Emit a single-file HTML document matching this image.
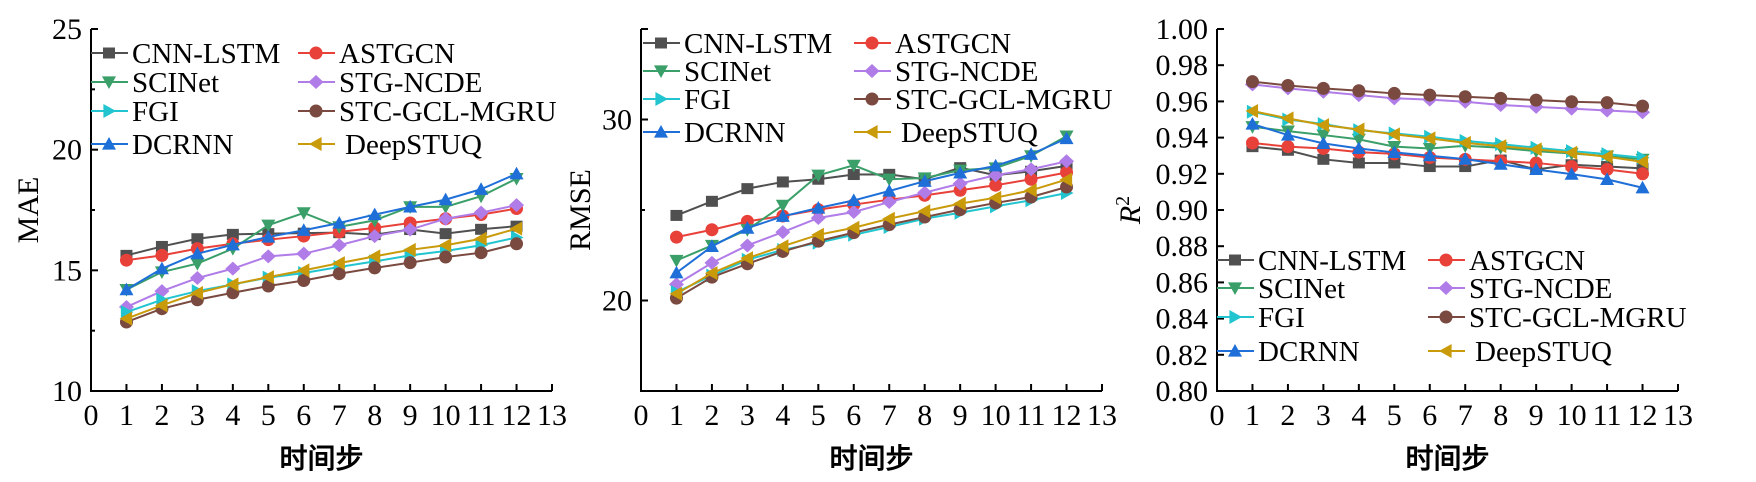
<!DOCTYPE html>
<html><head><meta charset="utf-8"><style>
html,body{margin:0;padding:0;background:#fff;}
svg{display:block;}
svg text{font-family:"Liberation Serif","Times New Roman",serif;}
</style></head><body>
<svg id="svg" width="1756" height="482" viewBox="0 0 1756 482" xmlns="http://www.w3.org/2000/svg"></svg>
<script>
const steps = [1,2,3,4,5,6,7,8,9,10,11,12];
const seriesNames = ["CNN-LSTM","ASTGCN","SCINet","STG-NCDE","FGI","STC-GCL-MGRU","DCRNN","DeepSTUQ"];
const mae_cnn = [15.62,15.99,16.31,16.49,16.52,16.54,16.56,16.48,16.69,16.52,16.70,16.83];
const mae_ast = [15.42,15.62,15.90,16.10,16.27,16.42,16.59,16.76,16.96,17.14,17.31,17.56];
const mae_sci = [14.20,14.93,15.28,15.90,16.87,17.38,16.80,17.07,17.63,17.63,18.07,18.80];
const mae_stg = [13.48,14.14,14.68,15.07,15.58,15.69,16.04,16.42,16.69,17.14,17.39,17.70];
const mae_fgi = [13.27,13.78,14.14,14.42,14.70,14.89,15.14,15.37,15.62,15.80,16.04,16.36];
const mae_stc = [12.86,13.41,13.78,14.07,14.35,14.58,14.86,15.10,15.32,15.55,15.73,16.10];
const mae_dcr = [14.20,15.07,15.69,16.06,16.38,16.66,16.96,17.31,17.63,17.93,18.36,19.00];
const mae_dst = [13.00,13.55,14.06,14.42,14.72,15.00,15.30,15.58,15.85,16.04,16.31,16.73];
const rmse_cnn = [24.70,25.48,26.18,26.55,26.70,26.96,26.97,26.70,27.34,26.92,27.14,27.44];
const rmse_ast = [23.50,23.91,24.37,24.67,25.02,25.30,25.57,25.81,26.09,26.37,26.70,27.07];
const rmse_sci = [22.21,23.04,23.91,25.26,26.92,27.47,26.70,26.77,27.20,27.32,27.99,29.08];
const rmse_stg = [20.89,22.08,23.04,23.78,24.56,24.89,25.44,25.96,26.46,26.92,27.25,27.69];
const rmse_fgi = [20.46,21.38,22.25,22.80,23.19,23.63,24.06,24.52,24.85,25.20,25.54,25.94];
const rmse_stc = [20.13,21.29,22.03,22.71,23.28,23.75,24.19,24.61,25.02,25.39,25.72,26.27];
const rmse_dcr = [21.53,22.99,24.00,24.65,25.11,25.53,26.05,26.59,27.05,27.44,28.08,28.95];
const rmse_dst = [20.37,21.51,22.34,23.00,23.63,24.02,24.52,24.94,25.35,25.68,26.09,26.68];
const r2_cnn = [0.935,0.933,0.928,0.926,0.926,0.924,0.924,0.9276,0.9224,0.925,0.924,0.923];
const r2_ast = [0.937,0.935,0.934,0.932,0.931,0.929,0.928,0.927,0.926,0.924,0.9224,0.920];
const r2_sci = [0.946,0.9436,0.9414,0.939,0.935,0.934,0.9355,0.9344,0.9325,0.9312,0.9298,0.928];
const r2_stg = [0.9694,0.9672,0.9653,0.9635,0.9617,0.961,0.9598,0.958,0.957,0.956,0.955,0.954];
const r2_fgi = [0.9543,0.950,0.9475,0.9441,0.9423,0.9405,0.9382,0.9364,0.9344,0.9325,0.9309,0.9289];
const r2_stc = [0.9709,0.9688,0.9672,0.9659,0.9644,0.9635,0.9626,0.9617,0.9607,0.9598,0.9593,0.9574];
const r2_dcr = [0.9475,0.9414,0.9368,0.934,0.9318,0.930,0.9281,0.9253,0.9224,0.9198,0.9169,0.9123];
const r2_dst = [0.9547,0.9506,0.9469,0.9445,0.9418,0.9396,0.9371,0.9353,0.9335,0.9316,0.9294,0.9266];
const xTicks = [0,1,2,3,4,5,6,7,8,9,10,11,12,13];
const maeTicks = [10,15,20,25];
const rmseTicks = [20,30];
const r2Ticks = [0.80,0.82,0.84,0.86,0.88,0.90,0.92,0.94,0.96,0.98,1.00];

const colors = ["#505050","#e8413a","#3a9f68","#b07ce8","#22c5cf","#7a4a40","#1f6fd8","#c99a0a"];
const shapes = ["square","circle","down","diamond","right","circle","up","left"];
const NS = "http://www.w3.org/2000/svg";
const svg = document.getElementById('svg');
const SERIF = '"Liberation Serif","Times New Roman",serif';
function mk(tag, attrs, parent){const e=document.createElementNS(NS,tag);for(const k in attrs)e.setAttribute(k,attrs[k]);(parent||svg).appendChild(e);return e;}

function marker(g, shape, x, y, c){
  const r=7; let e;
  if(shape==="square") e=mk('rect',{x:x-6,y:y-5.5,width:12,height:11,fill:c},g);
  else if(shape==="circle") e=mk('circle',{cx:x,cy:y,r:6.5,fill:c},g);
  else { let p;
    if(shape==="up") p=[[x,y-r],[x+r,y+r*0.8],[x-r,y+r*0.8]];
    if(shape==="down") p=[[x,y+r],[x+r,y-r*0.8],[x-r,y-r*0.8]];
    if(shape==="right") p=[[x+r,y],[x-r*0.8,y-r],[x-r*0.8,y+r]];
    if(shape==="left") p=[[x-r,y],[x+r*0.8,y-r],[x+r*0.8,y+r]];
    if(shape==="diamond") p=[[x,y-7],[x+7.5,y],[x,y+7],[x-7.5,y]];
    e=mk('polygon',{points:p.map(q=>q.join(',')).join(' '),fill:c},g);
  }
  
  
}

function chart(cfg){
  const g=mk('g',{});
  
  
  const x0=cfg.ax, x1=cfg.ax+461, yT=29, yB=391;
  const sx=v=>x0+(v-0)/13*(x1-x0);
  const sy=v=>yB-(v-cfg.min)/(cfg.max-cfg.min)*(yB-yT);
  const ax=mk('path',{d:`M${x0},${yT} V${yB} H${x1}`,stroke:'#000','stroke-width':2,fill:'none'},g);
  
  
  mk('line',{x1:x0,y1:yT,x2:x0+7,y2:yT,stroke:'#000','stroke-width':2},g);
  xTicks.forEach(t=>{
    mk('line',{x1:sx(t),y1:yB,x2:sx(t),y2:yB-7,stroke:'#000','stroke-width':2},g);
    const tx=mk('text',{x:sx(t),y:425,'font-size':30,'text-anchor':'middle','font-family':SERIF},g);
    tx.textContent=t;
    
    
  });
  cfg.ticks.forEach(t=>{
    mk('line',{x1:x0,y1:sy(t),x2:x0+7,y2:sy(t),stroke:'#000','stroke-width':2},g);
    const tx=mk('text',{x:x0-9,y:sy(t)+10,'font-size':30,'text-anchor':'end','font-family':SERIF},g);
    tx.textContent=cfg.fmt(t);
    
    
  });
  (cfg.minor||[]).forEach(t=>mk('line',{x1:x0,y1:sy(t),x2:x0+4,y2:sy(t),stroke:'#000','stroke-width':2},g));
  const xt=mk('text',{x:(x0+x1)/2,y:468,'font-size':28,'font-weight':'bold','text-anchor':'middle','font-family':'"Noto Sans CJK SC","WenQuanYi Zen Hei",sans-serif'},g);
  xt.textContent='时间步';
  
  
  const yt=mk('text',{x:0,y:0,'font-size':30,'text-anchor':'middle','font-family':SERIF,transform:`translate(${cfg.ytx},210) rotate(-90)`},g);
  if(cfg.r2){yt.innerHTML='<tspan font-style="italic">R</tspan><tspan dy="-11" font-size="20">2</tspan>';}
  else yt.textContent=cfg.ytitle;
  
  
  cfg.data.forEach((arr,i)=>{
    const sg=mk('g',{},g);
    
    
    mk('polyline',{points:arr.map((v,j)=>sx(steps[j])+','+sy(v)).join(' '),fill:'none',stroke:colors[i],'stroke-width':2},sg);
    arr.forEach((v,j)=>marker(sg,shapes[i],sx(steps[j]),sy(v),colors[i]));
  });
  const L=cfg.leg;
  seriesNames.forEach((n,i)=>{
    const col=i%2,row=Math.floor(i/2);
    const lx=col?L.c2:L.c1, ly=L.rows[row];
    const lg=mk('g',{},g);
    
    
    mk('line',{x1:lx,y1:ly,x2:lx+37,y2:ly,stroke:colors[i],'stroke-width':2},lg);
    marker(lg,shapes[i],lx+18,ly,colors[i]);
    const t=mk('text',{x:lx+41+(i===7?6:0),y:ly+10,'font-size':29,'font-family':SERIF},lg);
    t.textContent=n;
  });
}
chart({name:'mae',ax:91,min:10,max:25,ticks:maeTicks,minor:[12.5,17.5,22.5],fmt:v=>v,ytitle:'MAE',ytx:38,
  data:[mae_cnn,mae_ast,mae_sci,mae_stg,mae_fgi,mae_stc,mae_dcr,mae_dst],
  leg:{c1:91,c2:298,rows:[53,82,111,144]}});
chart({name:'rmse',ax:641,min:15,max:35,ticks:rmseTicks,minor:[25],fmt:v=>v,ytitle:'RMSE',ytx:590,
  data:[rmse_cnn,rmse_ast,rmse_sci,rmse_stg,rmse_fgi,rmse_stc,rmse_dcr,rmse_dst],
  leg:{c1:643,c2:854,rows:[43,71,99,132]}});
chart({name:'r2',ax:1217,min:0.8,max:1.0,ticks:r2Ticks,fmt:v=>v.toFixed(2),r2:true,ytx:1140,
  data:[r2_cnn,r2_ast,r2_sci,r2_stg,r2_fgi,r2_stc,r2_dcr,r2_dst],
  leg:{c1:1217,c2:1428,rows:[260,288,317,351]}});
</script>
</body></html>
